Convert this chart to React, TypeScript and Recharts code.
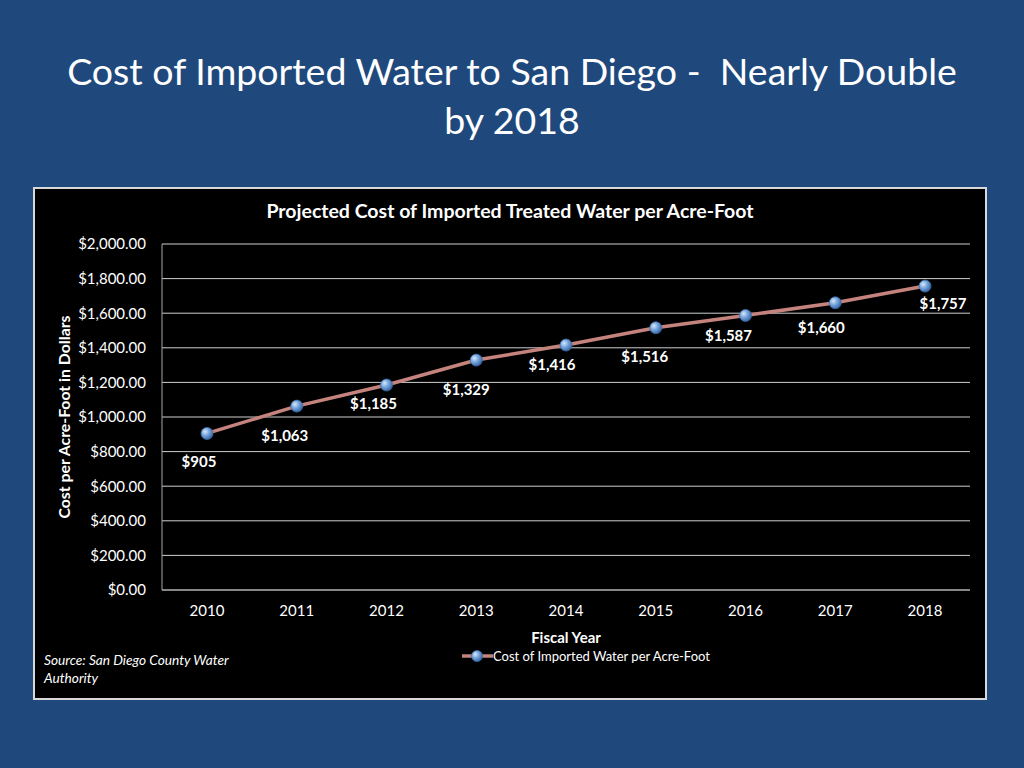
import React from "react"
import { LineChart, Line, XAxis, YAxis, CartesianGrid, LabelList } from "recharts"

const years = ["2010", "2011", "2012", "2013", "2014", "2015", "2016", "2017", "2018"]
const costs = [905, 1063, 1185, 1329, 1416, 1516, 1587, 1660, 1757]
const yTicks = [0, 200, 400, 600, 800, 1000, 1200, 1400, 1600, 1800, 2000]

// where Excel put each data label, relative to its point
const labelShift = [
  [-8, 28],
  [-12, 29],
  [-13, 18],
  [-10, 29],
  [-14, 19],
  [-11, 28],
  [-17, 20],
  [-14, 24],
  [18, 17],
]

const data = years.map((year, i) => ({ year, cost: costs[i] }))

const FONT = "Lato, 'Open Sans', sans-serif"
const BG = "#1f497d"
const LINE = "#c4837d"

const money = (v: number) =>
  "$" + v.toLocaleString("en-US", { minimumFractionDigits: 2, maximumFractionDigits: 2 })

const Ball = ({ cx, cy }: any) => {
  if (cx == null || cy == null) return null
  return <circle cx={cx} cy={cy} r={6} fill="url(#ball)" stroke="#3d6da8" strokeWidth={0.8} />
}

const DataLabel = ({ x, y, index, value }: any) => {
  const [dx, dy] = labelShift[index] || [0, 20]
  return (
    <text
      x={x + dx}
      y={y + dy}
      fill="#fff"
      fontSize={15}
      fontWeight="bold"
      fontFamily={FONT}
      textAnchor="middle"
      dominantBaseline="central"
    >
      {"$" + Number(value).toLocaleString("en-US")}
    </text>
  )
}

export default function App() {
  return (
    <div
      style={{
        position: "fixed",
        left: 0,
        top: 0,
        width: 1024,
        height: 768,
        background: BG,
        fontFamily: FONT,
        overflow: "hidden",
      }}
    >
      <div
        style={{
          position: "absolute",
          left: 0,
          top: 46,
          width: 1024,
          textAlign: "center",
          color: "#fff",
          fontSize: 37.5,
          lineHeight: "49px",
        }}
      >
        Cost of Imported Water to San Diego -&nbsp; Nearly Double
        <br />
        by 2018
      </div>

      <div
        style={{
          position: "absolute",
          left: 33,
          top: 187,
          width: 950,
          height: 509,
          background: "#000",
          border: "2px solid #d8d8d8",
        }}
      />

      <div
        style={{
          position: "absolute",
          left: 0,
          top: 199,
          width: 1020,
          textAlign: "center",
          color: "#fff",
          fontSize: 19.5,
          fontWeight: "bold",
        }}
      >
        Projected Cost of Imported Treated Water per Acre-Foot
      </div>

      <div style={{ position: "absolute", left: 0, top: 0 }}>
        <LineChart width={1024} height={768} data={data} margin={{ top: 244, right: 54, bottom: 118, left: 42 }}>
          <defs>
            <radialGradient id="ball" cx="35%" cy="35%" r="70%">
              <stop offset="0%" stopColor="#d6e8fb" />
              <stop offset="45%" stopColor="#7aa8de" />
              <stop offset="100%" stopColor="#3565a6" />
            </radialGradient>
          </defs>
          <CartesianGrid vertical={false} stroke="#cfcfcf" strokeWidth={1} />
          <XAxis
            dataKey="year"
            height={60}
            padding={{ left: 45, right: 45 }}
            stroke="#a6a6a6"
            tickLine={false}
            tickSize={6}
            tickMargin={9}
            tick={{ fill: "#fff", fontSize: 15, fontFamily: FONT }}
            label={(props: any) => {
              const vb = props.viewBox
              return (
                <text
                  x={566}
                  y={637}
                  fill="#fff"
                  fontSize={15}
                  fontWeight="bold"
                  fontFamily={FONT}
                  textAnchor="middle"
                  dominantBaseline="central"
                >
                  Fiscal Year
                </text>
              )
            }}
          />
          <YAxis
            width={120}
            domain={[0, 2000]}
            ticks={yTicks}
            stroke="#a6a6a6"
            tickLine={false}
            tickSize={8}
            tickMargin={8}
            tickFormatter={money}
            tick={{ fill: "#fff", fontSize: 15, fontFamily: FONT }}
            label={(props: any) => {
              const vb = props.viewBox
              const cy = vb.y + vb.height / 2
              return (
                <text
                  x={63}
                  y={cy}
                  fill="#fff"
                  fontSize={15.8}
                  fontWeight="bold"
                  fontFamily={FONT}
                  textAnchor="middle"
                  dominantBaseline="central"
                  transform={`rotate(-90, 63, ${cy})`}
                >
                  Cost per Acre-Foot in Dollars
                </text>
              )
            }}
          />
          <Line
            dataKey="cost"
            name="Cost of Imported Water per Acre-Foot"
            stroke={LINE}
            strokeWidth={3.5}
            dot={<Ball />}
            activeDot={false}
            isAnimationActive={false}
          >
            <LabelList dataKey="cost" content={<DataLabel />} />
          </Line>
        </LineChart>
      </div>

      <div style={{ position: "absolute", left: 462, top: 647, display: "flex", alignItems: "center" }}>
        <svg width={31} height={18}>
          <defs>
            <radialGradient id="ball2" cx="35%" cy="35%" r="70%">
              <stop offset="0%" stopColor="#d6e8fb" />
              <stop offset="45%" stopColor="#7aa8de" />
              <stop offset="100%" stopColor="#3565a6" />
            </radialGradient>
          </defs>
          <line x1={0} y1={9} x2={31} y2={9} stroke={LINE} strokeWidth={3.5} />
          <circle cx={15} cy={9} r={5.5} fill="url(#ball2)" stroke="#3d6da8" strokeWidth={0.8} />
        </svg>
        <span style={{ color: "#fff", fontSize: 13, marginLeft: 0 }}>Cost of Imported Water per Acre-Foot</span>
      </div>

      <div
        style={{
          position: "absolute",
          left: 44,
          top: 651,
          color: "#fff",
          fontSize: 13.7,
          fontStyle: "italic",
          lineHeight: "18px",
        }}
      >
        Source: San Diego County Water
        <br />
        Authority
      </div>
    </div>
  )
}
